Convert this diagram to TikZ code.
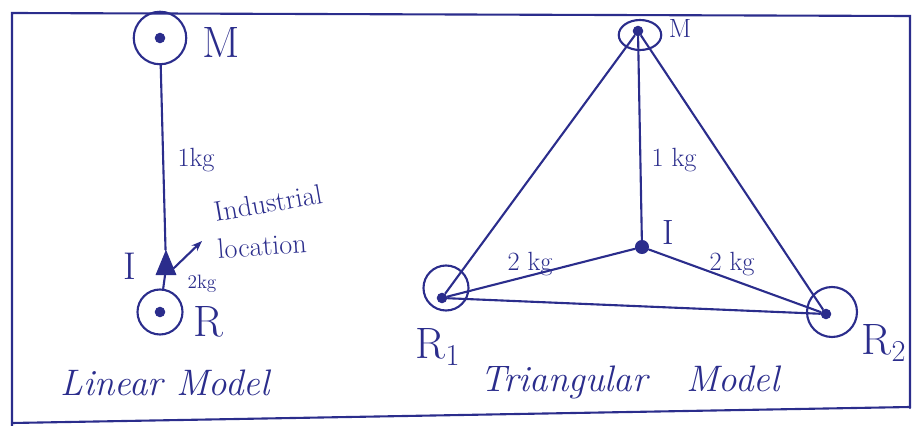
\documentclass[tikz,border=0pt]{standalone}
\usepackage{fontspec}
\usetikzlibrary{shapes.geometric, arrows.meta}

\begin{document}
\begin{tikzpicture}[x=0.02cm, y=-0.02cm,
		pen/.style={draw=ink, line width=1.2pt, line cap=round},
		site/.style={circle, draw=ink, line width=1.2pt, minimum size=#1, inner sep=0pt},
		dot/.style={circle, fill=ink, inner sep=0pt, minimum size=#1},
		dot/.default=6pt,
		lbl/.style={text=ink, inner sep=1pt, font=#1},
		title/.style={text=ink, inner sep=1pt, font=\fontsize{21}{24}\selectfont\itshape}
		]
		\definecolor{ink}{HTML}{2B2D8C}
		\useasboundingbox (0,0) rectangle (921,426);
		
		% Frame
		\draw[pen] (12,426) -- (12,13) -- (910,16) -- (910,408);
		\draw[pen] (12,423) -- (910,407);
		
		% Linear model
		\node[site=1.05cm] (lM) at (160,38) {};
		\node[dot] (lMd) at (lM.center) {};
		\node[lbl=\fontsize{25}{28}\selectfont] (lMl) at (221,42) {M};
		\node[isosceles triangle, shape border rotate=90, fill=ink, inner sep=0pt, minimum width=0.42cm, minimum height=0.32cm] (lI) at (166,268) {};
		\node[lbl=\fontsize{22}{24}\selectfont] (lIl) at (130,266) {I};
		\node[site=0.9cm] (lR) at (160,312) {};
		\node[dot] (lRd) at (lR.center) {};
		\node[lbl=\fontsize{25}{28}\selectfont] (lRl) at (208,322) {R};
		\draw[pen] (lM) -- (lI);
		\draw[pen] (lR) -- (lI);
		\node[lbl=\fontsize{15}{17}\selectfont] (lkg1) at (196,160) {1kg};
		\node[lbl=\fontsize{11}{13}\selectfont] (lkg2) at (202,284) {2kg};
		\node[lbl=\fontsize{16}{18}\selectfont, rotate=10] (lInd) at (268,203) {Industrial};
		\node[lbl=\fontsize{16}{18}\selectfont, rotate=4] (lLoc) at (262,246) {location};
		\coordinate (lArr) at (202,241);
		\draw[pen, -{Stealth[length=6pt]}] (lI.east) -- (lArr);
		\node[title] (lTitle) at (165,383) {Linear Model};
		
		% Triangular model
		\node[ellipse, draw=ink, line width=1.2pt, minimum width=0.85cm, minimum height=0.6cm, inner sep=0pt] (tM) at (640,35) {};
		\node[dot] (tMd) at (638,31) {};
		\node[lbl=\fontsize{15}{17}\selectfont] (tMl) at (680,28) {M};
		\node[site=0.9cm] (tR1) at (446,288) {};
		\node[dot] (tR1d) at (442,298) {};
		\node[site=1.0cm] (tR2) at (832,312) {};
		\node[dot] (tR2d) at (826,314) {};
		\node[dot=8pt] (tI) at (642,247) {};
		\draw[pen] (tMd) -- (tR1d);
		\draw[pen] (tMd) -- (tR2d);
		\draw[pen] (tMd) -- (tI);
		\draw[pen] (tI) -- (tR1d);
		\draw[pen] (tI) -- (tR2d);
		\draw[pen] (tR1d) -- (tR2d);
		\node[lbl=\fontsize{15}{17}\selectfont] (tkg1) at (674,160) {1 kg};
		\node[lbl=\fontsize{20}{22}\selectfont] (tIl) at (668,232) {I};
		\node[lbl=\fontsize{15}{17}\selectfont] (tkg2) at (530,264) {2 kg};
		\node[lbl=\fontsize{15}{17}\selectfont] (tkg3) at (732,264) {2 kg};
		\node[lbl=\fontsize{25}{28}\selectfont] (tR1l) at (438,347) {R$_1$};
		\node[lbl=\fontsize{25}{28}\selectfont] (tR2l) at (884,343) {R$_2$};
		\node[title] (tTitle) at (630,382) {Triangular\ \ \ Model};
		
	\end{tikzpicture}
\end{document}
